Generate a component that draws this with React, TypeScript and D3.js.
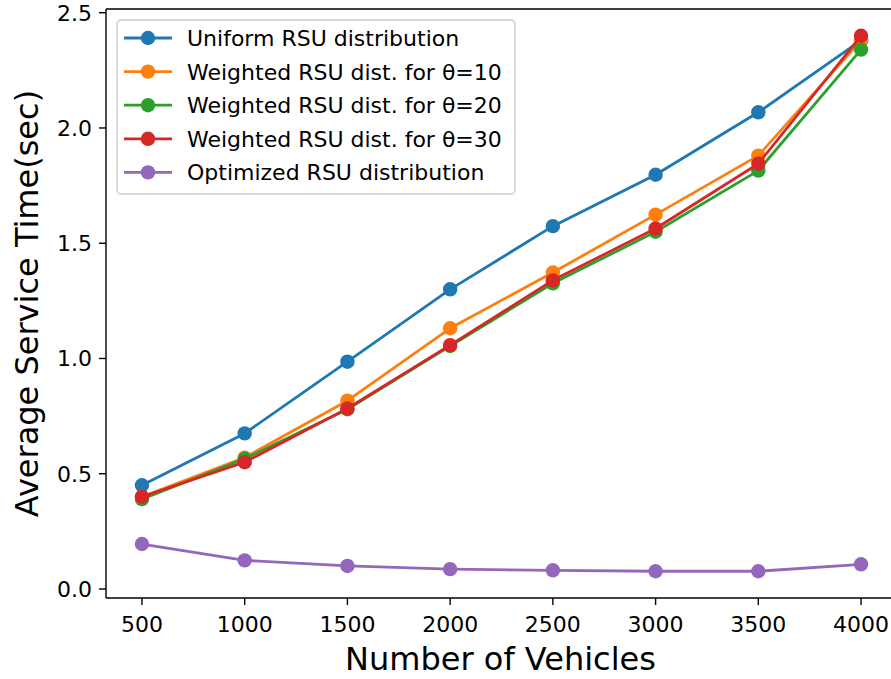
import React from "react";
import * as d3 from "d3";

// vehicles on the x axis
const vehicles = [500, 1000, 1500, 2000, 2500, 3000, 3500, 4000];

// average service time (sec) per series
const uniform = [0.45, 0.675, 0.986, 1.3, 1.574, 1.797, 2.068, 2.38];
const weighted10 = [0.4, 0.57, 0.817, 1.131, 1.373, 1.624, 1.88, 2.38];
const weighted20 = [0.39, 0.565, 0.78, 1.054, 1.326, 1.55, 1.815, 2.34];
const weighted30 = [0.4, 0.55, 0.783, 1.058, 1.339, 1.564, 1.845, 2.4];
const optimized = [0.195, 0.124, 0.1, 0.086, 0.081, 0.077, 0.077, 0.107];

const seriesNames = [
  "Uniform RSU distribution",
  "Weighted RSU dist. for θ=10",
  "Weighted RSU dist. for θ=20",
  "Weighted RSU dist. for θ=30",
  "Optimized RSU distribution",
];
const seriesColors = ["#1f77b4", "#ff7f0e", "#2ca02c", "#d62728", "#9467bd"];
const seriesValues = [uniform, weighted10, weighted20, weighted30, optimized];

const xTicks = [500, 1000, 1500, 2000, 2500, 3000, 3500, 4000];
const yTicks = [0, 0.5, 1.0, 1.5, 2.0, 2.5];

const W = 891;
const H = 679;
const plot = { left: 106, top: 9, right: 897, bottom: 598 };
const font = "DejaVu Sans, sans-serif";

export default function App() {
  // matplotlib-style 5% margins around the data
  const xMin = d3.min(vehicles)!;
  const xMax = d3.max(vehicles)!;
  const xPad = (xMax - xMin) * 0.05;
  const allY = seriesValues.flat();
  const yMin = d3.min(allY)!;
  const yMax = d3.max(allY)!;
  const yPad = (yMax - yMin) * 0.05;

  const x = d3.scaleLinear().domain([xMin - xPad, xMax + xPad]).range([plot.left, plot.right]);
  const y = d3.scaleLinear().domain([yMin - yPad, yMax + yPad]).range([plot.bottom, plot.top]);

  const line = d3
    .line<number>()
    .x((_, i) => x(vehicles[i]))
    .y((d) => y(d));

  const legend = { x: 117, y: 20, w: 398, h: 174, row: 33.6 };

  return (
    <svg
      width={W}
      height={H}
      style={{ position: "absolute", left: 0, top: 0, background: "#fff" }}
      fontFamily={font}
    >
      {/* series */}
      {seriesValues.map((vals, s) => (
        <g key={s}>
          <path d={line(vals)!} fill="none" stroke={seriesColors[s]} strokeWidth={2.8} strokeLinejoin="round" />
          {vals.map((v, i) => (
            <circle key={i} cx={x(vehicles[i])} cy={y(v)} r={7.2} fill={seriesColors[s]} />
          ))}
        </g>
      ))}

      {/* spines */}
      <line x1={plot.left} x2={plot.left} y1={plot.top} y2={plot.bottom} stroke="#000" strokeWidth={1.4} />
      <line x1={plot.left} x2={plot.right} y1={plot.bottom} y2={plot.bottom} stroke="#000" strokeWidth={1.4} />
      <line x1={plot.left} x2={plot.right} y1={plot.top} y2={plot.top} stroke="#000" strokeWidth={1.4} />
      <line x1={plot.right} x2={plot.right} y1={plot.top} y2={plot.bottom} stroke="#000" strokeWidth={1.4} />

      {/* x ticks */}
      {xTicks.map((t) => (
        <g key={t} transform={`translate(${x(t)},${plot.bottom})`}>
          <line y1={0} y2={7} stroke="#000" strokeWidth={1.4} />
          <text y={34} textAnchor="middle" fontSize={22} fill="#000">
            {t}
          </text>
        </g>
      ))}

      {/* y ticks */}
      {yTicks.map((t) => (
        <g key={t} transform={`translate(${plot.left},${y(t)})`}>
          <line x1={-7} x2={0} stroke="#000" strokeWidth={1.4} />
          <text x={-14} dy="0.36em" textAnchor="end" fontSize={22} fill="#000">
            {t.toFixed(1)}
          </text>
        </g>
      ))}

      {/* axis labels */}
      <text x={(plot.left + 895) / 2} y={670} textAnchor="middle" fontSize={32} fill="#000">
        Number of Vehicles
      </text>
      <text
        transform={`translate(38,${(plot.top + plot.bottom) / 2}) rotate(-90)`}
        textAnchor="middle"
        fontSize={32}
        fill="#000"
      >
        Average Service Time(sec)
      </text>

      {/* legend */}
      <rect
        x={legend.x}
        y={legend.y}
        width={legend.w}
        height={legend.h}
        rx={4}
        fill="#fff"
        fillOpacity={0.8}
        stroke="#cccccc"
        strokeWidth={1.4}
      />
      {seriesNames.map((name, i) => {
        const cy = legend.y + 18 + i * legend.row;
        return (
          <g key={name}>
            <line x1={124} x2={172} y1={cy} y2={cy} stroke={seriesColors[i]} strokeWidth={2.8} />
            <circle cx={148} cy={cy} r={7.2} fill={seriesColors[i]} />
            <text x={187} y={cy} dy="0.36em" fontSize={22} fill="#000">
              {name}
            </text>
          </g>
        );
      })}
    </svg>
  );
}
